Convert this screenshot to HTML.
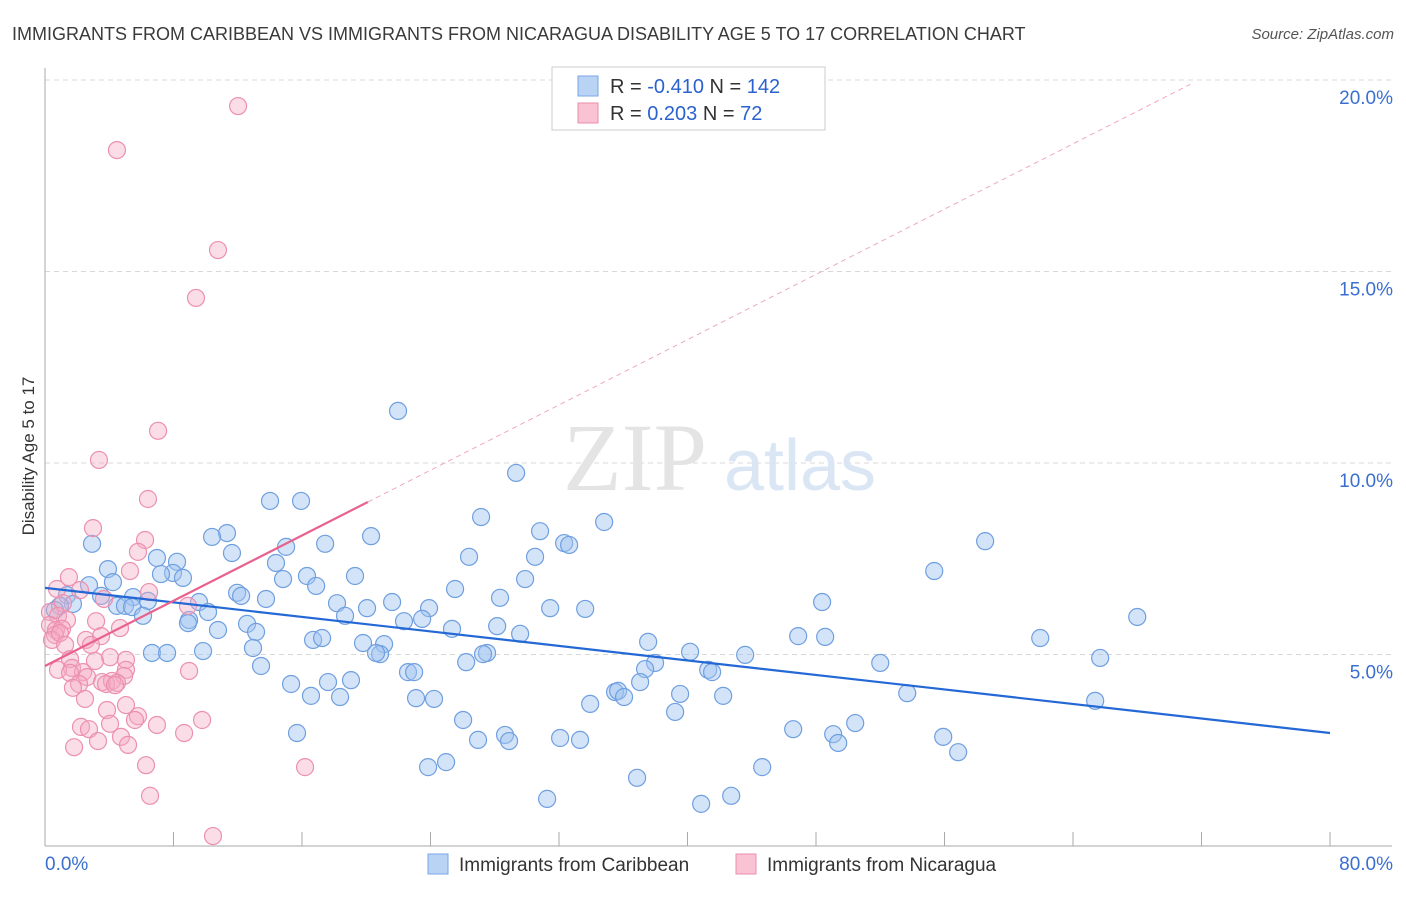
<!DOCTYPE html>
<html><head><meta charset="utf-8"><style>
body{margin:0;background:#fff;font-family:"Liberation Sans",sans-serif;}
</style></head><body>
<svg id="chart" width="1406" height="892" xmlns="http://www.w3.org/2000/svg" style="font-family:'Liberation Sans',sans-serif">
<text x="12" y="40" font-size="18" fill="#3a3a3a">IMMIGRANTS FROM CARIBBEAN VS IMMIGRANTS FROM NICARAGUA DISABILITY AGE 5 TO 17 CORRELATION CHART</text>
<text x="1394" y="39" font-size="15" fill="#555" text-anchor="end" font-style="italic">Source: ZipAtlas.com</text>
<g id="grid"></g>
<g>
<text x="635" y="490" font-size="96" font-family="Liberation Serif,serif" fill="#e4e4e4" text-anchor="middle">ZIP</text>
<text x="800" y="490" font-size="72" fill="#dbe6f5" text-anchor="middle">atlas</text>
</g>
<g id="pts"></g>
<g id="lines"></g>
<text transform="translate(34,456) rotate(-90)" font-size="17" fill="#333" text-anchor="middle">Disability Age 5 to 17</text>
<g>
<rect x="552" y="67" width="273" height="63" fill="#fff" stroke="#ccc"/>
<rect x="578" y="76" width="20" height="20" fill="#b9d3f5" stroke="#7aa6e6"/>
<rect x="578" y="103" width="20" height="20" fill="#f9c3d3" stroke="#ea8fae"/>
<text x="610" y="93" font-size="20" fill="#333">R = <tspan fill="#2a62cf">-0.410</tspan>   N = <tspan fill="#2a62cf">142</tspan></text>
<text x="610" y="120" font-size="20" fill="#333">R =  <tspan fill="#2a62cf"> 0.203</tspan>   N =  <tspan fill="#2a62cf"> 72</tspan></text>
</g>
<g>
<rect x="428" y="854" width="20" height="20" fill="#b9d3f5" stroke="#7aa6e6"/>
<text x="459" y="871" font-size="19" fill="#333">Immigrants from Caribbean</text>
<rect x="736" y="854" width="20" height="20" fill="#f9c3d3" stroke="#ea8fae"/>
<text x="767" y="871" font-size="19" fill="#333">Immigrants from Nicaragua</text>
</g>
</svg>
<script>
const xTicks=[0,8,16,24,32,40,48,56,64,72,80];
const yTicks=[5,10,15,20];
const yTickLabels=["5.0%","10.0%","15.0%","20.0%"];
const xEndLabels=["0.0%","80.0%"];
const blueX=[21.98,29.33,14.01,15.94,27.15,34.81,30.82,20.30,11.33,10.40,2.93,32.32,32.63,17.44,15.01,11.64,26.40,6.97,30.51,8.22,14.38,3.92,7.97,7.22,8.59,55.36,58.53,19.30,16.31,14.82,29.89,16.88,2.74,4.23,25.53,11.96,12.21,1.37,3.49,5.48,13.76,9.59,28.33,48.38,1.74,0.93,0.62,4.48,4.98,5.42,6.41,18.18,21.61,23.91,33.63,31.45,20.05,10.15,6.10,8.97,18.68,22.35,23.48,8.90,68.00,12.58,10.77,28.15,25.34,13.14,16.69,17.25,29.58,46.89,48.57,61.96,37.55,19.80,21.11,12.95,9.84,6.66,7.60,20.86,20.61,27.52,27.27,40.16,43.59,52.00,65.69,26.22,37.98,13.45,37.36,22.60,22.98,41.29,41.53,37.05,15.32,17.62,19.05,35.49,35.68,36.05,53.68,39.54,42.22,16.56,18.37,23.10,24.22,65.38,33.94,39.23,26.03,50.44,46.58,15.69,49.07,49.38,55.92,28.64,28.89,26.96,32.07,33.31,56.85,24.97,23.85,44.65,36.86,42.72,31.26,40.85];
const blueY=[11.36,9.74,9.01,9.01,8.59,8.46,8.22,8.09,8.17,8.07,7.89,7.91,7.86,7.89,7.81,7.65,7.55,7.52,7.55,7.42,7.39,7.23,7.13,7.10,7.00,7.18,7.96,7.05,7.05,6.97,6.97,6.79,6.81,6.89,6.71,6.61,6.53,6.55,6.53,6.50,6.45,6.37,6.48,6.37,6.32,6.27,6.16,6.27,6.27,6.24,6.40,6.34,6.37,6.21,6.19,6.21,6.21,6.11,6.01,5.90,6.01,5.87,5.93,5.82,5.98,5.80,5.64,5.74,5.67,5.59,5.38,5.43,5.54,5.48,5.46,5.43,5.33,5.30,5.27,5.17,5.09,5.04,5.04,5.01,5.04,5.04,5.01,5.07,4.99,4.78,4.91,4.80,4.78,4.70,4.62,4.54,4.54,4.60,4.54,4.28,4.23,4.28,4.33,4.02,4.05,3.89,3.99,3.97,3.92,3.92,3.89,3.86,3.84,3.79,3.71,3.50,3.29,3.21,3.05,2.95,2.92,2.69,2.85,2.90,2.74,2.77,2.82,2.77,2.45,2.19,2.06,2.06,1.78,1.31,1.23,1.10];
const pinkX=[12.02,4.48,10.77,9.40,7.04,3.36,6.41,2.99,6.23,5.79,5.29,1.49,0.75,2.18,6.48,8.90,3.67,1.12,0.31,0.81,1.37,3.18,4.67,0.31,0.68,1.06,0.62,0.44,2.55,3.49,0.93,1.25,2.86,4.05,1.56,3.11,5.04,1.68,0.81,2.37,1.56,5.04,4.92,2.62,8.97,3.55,4.17,2.12,3.80,4.48,1.74,4.36,2.49,5.04,3.86,5.79,5.60,2.24,2.74,4.05,9.78,6.97,4.73,3.30,5.17,1.81,8.66,6.29,16.19,6.54,10.46];
const pinkY=[19.32,18.17,15.56,14.31,10.84,10.08,9.06,8.30,7.99,7.68,7.18,7.02,6.71,6.68,6.63,6.27,6.45,6.34,6.11,6.01,5.90,5.87,5.69,5.77,5.64,5.67,5.51,5.38,5.38,5.48,5.56,5.25,5.25,4.93,4.88,4.83,4.86,4.65,4.60,4.54,4.52,4.60,4.44,4.41,4.57,4.28,4.31,4.23,4.23,4.26,4.13,4.20,3.84,3.68,3.55,3.39,3.29,3.11,3.05,3.19,3.29,3.16,2.85,2.74,2.64,2.58,2.95,2.11,2.06,1.31,0.26];
const blueTrend=[6.74,2.95]; // y at x=0 and x=80
const pinkTrend=[4.70,0.213]; // intercept, slope
const pinkSolidEnd=20.1, pinkDashEnd=71.3;

const NS="http://www.w3.org/2000/svg";
const X=v=>45+v*(1285/80);
const Y=v=>846-v*(766/20);
function mk(tag,attrs,parent){const e=document.createElementNS(NS,tag);for(const k in attrs)e.setAttribute(k,attrs[k]);parent.appendChild(e);return e;}
const grid=document.getElementById('grid');
yTicks.forEach((t,i)=>{
  const l=mk('line',{x1:45,x2:1392,y1:Y(t),y2:Y(t),stroke:'#d8d8d8','stroke-dasharray':'5,4'},grid);
  
  
  const tx=mk('text',{x:1393,y:Y(t)+24,'font-size':19,fill:'#3a6fd0','text-anchor':'end'},grid);
  tx.textContent=yTickLabels[i];
  
  
});
const ax=mk('line',{x1:45,x2:45,y1:68,y2:846,stroke:'#aaa'},grid);


const bx=mk('line',{x1:45,x2:1392,y1:846,y2:846,stroke:'#aaa'},grid);


xTicks.forEach(t=>{
  const tk=mk('line',{x1:X(t),x2:X(t),y1:832,y2:846,stroke:'#aaa'},grid);
  
  
});
[[0,'start',45],[80,'end',1393]].forEach((d,i)=>{
  const tx=mk('text',{x:d[2],y:870,'font-size':19,fill:'#3a6fd0','text-anchor':d[1]},grid);
  tx.textContent=xEndLabels[i];
  
  
});
const pts=document.getElementById('pts');
blueX.forEach((x,i)=>{
  const c=mk('circle',{cx:X(x),cy:Y(blueY[i]),r:8.5,fill:'rgba(160,196,240,0.45)',stroke:'#6f9fe0','stroke-width':1.2},pts);
  
  
});
pinkX.forEach((x,i)=>{
  const c=mk('circle',{cx:X(x),cy:Y(pinkY[i]),r:8.5,fill:'rgba(246,170,195,0.4)',stroke:'#ec90af','stroke-width':1.2},pts);
  
  
});
const lines=document.getElementById('lines');
const bl=mk('line',{x1:X(0),y1:Y(blueTrend[0]),x2:X(80),y2:Y(blueTrend[1]),stroke:'#2468d6','stroke-width':2.2},lines);


const pf=x=>pinkTrend[0]+pinkTrend[1]*x;
const pd=mk('line',{x1:X(pinkSolidEnd),y1:Y(pf(pinkSolidEnd)),x2:X(pinkDashEnd),y2:Y(pf(pinkDashEnd)),stroke:'#f0a8be','stroke-width':1,'stroke-dasharray':'5,4'},lines);


const pl=mk('line',{x1:X(0),y1:Y(pf(0)),x2:X(pinkSolidEnd),y2:Y(pf(pinkSolidEnd)),stroke:'#e8628f','stroke-width':2.2},lines);


</script>
</body></html>
